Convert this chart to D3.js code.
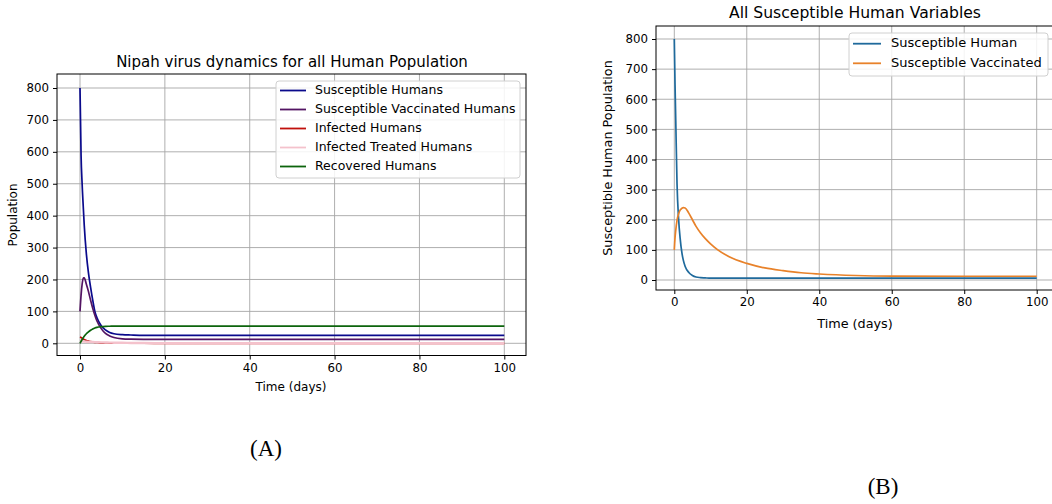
<!DOCTYPE html>
<meta charset="utf-8">
<style>
  body { margin: 0; background: #fff; }
  text { font-family: "DejaVu Sans", sans-serif; fill: #000; }
  .lab { font-family: "Liberation Serif", "Times New Roman", serif; }
</style>

<svg width="1052" height="504"></svg>

<script src="https://d3js.org/d3.v7.min.js"></script>
<script>

// ---- panel A: all human compartments ----
var daysA = [0, 0.25, 0.5, 0.8, 1, 1.5, 2, 2.5, 3, 3.5, 4, 5, 6, 7, 8, 10, 12, 15, 20, 100]
var susceptibleA = [800, 590, 500, 420, 370, 280, 220, 175, 135, 100, 80, 55, 42, 34, 30, 27, 26, 25, 25, 25]
var vaccinatedA = [100, 150, 185, 205, 205, 185, 162, 135, 110, 88, 70, 46, 31, 23, 18, 14, 13, 12.5, 12.5, 12.5]
var infectedA = [20, 18, 16, 13, 12, 9, 7, 5, 4, 3, 2.5, 1.5, 1, 0.7, 0.5, 0.3, 0.2, 0.1, 0, 0]
var treatedA = [8, 7, 6.5, 6, 5.5, 5, 4.5, 4.2, 4, 3.8, 3.5, 3, 2.6, 2.2, 1.9, 1.5, 1.1, 0.8, 0.5, 0]
var recoveredA = [0, 6, 12, 18, 22, 30, 36, 41, 45, 48, 50, 52, 53, 53.5, 54, 54, 54, 54, 54, 54]
var namesA = ["Susceptible Humans", "Susceptible Vaccinated Humans", "Infected Humans", "Infected Treated Humans", "Recovered Humans"]

// ---- panel B: susceptible only ----
var daysB = [0, 0.2, 0.4, 0.75, 1.2, 1.6, 2.1, 2.5, 3, 4, 5, 6, 7.2, 8.5, 10, 12, 15, 20, 25, 30, 35, 40, 50, 60, 80, 100]
var susceptibleB = [800, 650, 530, 320, 200, 140, 90, 65, 45, 25, 15, 10, 8, 7, 6, 6, 6, 6, 6, 6, 6, 6, 6, 6, 6, 6]
var vaccinatedB = [100, 140, 165, 198, 220, 232, 238, 240, 239, 222, 200, 178, 157, 138, 120, 100, 78, 55, 40, 31, 24, 20, 15, 13, 12.5, 12.5]
var namesB = ["Susceptible Human", "Susceptible Vaccinated"]

var xTicks = [0, 20, 40, 60, 80, 100]
var yTicks = [0, 100, 200, 300, 400, 500, 600, 700, 800]

var svg = d3.select('svg')

function drawPanel(p) {
  var g = svg.append('g')
  var x = d3.scaleLinear().domain([0, 100]).range(p.xr)
  var y = d3.scaleLinear().domain([0, 800]).range(p.yr)

  // grid
  g.selectAll('.gx').data(xTicks).enter().append('line')
    .attr('x1', d => x(d)).attr('x2', d => x(d))
    .attr('y1', p.box[1]).attr('y2', p.box[3])
    .attr('stroke', '#a6a6a6').attr('stroke-width', 0.9)
  g.selectAll('.gy').data(yTicks).enter().append('line')
    .attr('y1', d => y(d)).attr('y2', d => y(d))
    .attr('x1', p.box[0]).attr('x2', p.box[2])
    .attr('stroke', '#a6a6a6').attr('stroke-width', 0.9)

  // series
  var line = d3.line().curve(d3.curveMonotoneX)
  p.series.forEach(function (s) {
    var pts = p.days.map((t, i) => [x(t), y(s.values[i])])
    g.append('path').attr('d', line(pts))
      .attr('fill', 'none').attr('stroke', s.color).attr('stroke-width', s.width || 1.7)
  })

  // frame
  g.append('rect')
    .attr('x', p.box[0]).attr('y', p.box[1])
    .attr('width', p.box[2] - p.box[0]).attr('height', p.box[3] - p.box[1])
    .attr('fill', 'none').attr('stroke', '#000').attr('stroke-width', 1)

  // axes
  g.append('g').attr('transform', 'translate(0,' + p.box[3] + ')')
    .call(d3.axisBottom(x).tickValues(xTicks).tickSize(4).tickPadding(4))
    .call(a => a.select('.domain').remove())
    .selectAll('text').attr('font-size', 11.8).attr('font-family', 'DejaVu Sans')
  g.append('g').attr('transform', 'translate(' + p.box[0] + ',0)')
    .call(d3.axisLeft(y).tickValues(yTicks).tickSize(4).tickPadding(4))
    .call(a => a.select('.domain').remove())
    .selectAll('text').attr('font-size', 11.8).attr('font-family', 'DejaVu Sans')

  // titles
  g.append('text').attr('x', p.titleXY[0]).attr('y', p.titleXY[1])
    .attr('text-anchor', 'middle').attr('dominant-baseline', 'middle')
    .attr('font-size', p.titleSize).text(p.title)
  g.append('text').attr('x', p.xLabXY[0]).attr('y', p.xLabXY[1])
    .attr('text-anchor', 'middle').attr('dominant-baseline', 'middle')
    .attr('font-size', p.labSize).text('Time (days)')
  g.append('text')
    .attr('transform', 'translate(' + p.yLabXY[0] + ',' + p.yLabXY[1] + ') rotate(-90)')
    .attr('text-anchor', 'middle').attr('dominant-baseline', 'middle')
    .attr('font-size', p.labSize).text(p.yLabel)

  // legend
  var L = p.legend
  g.append('rect').attr('x', L.box[0]).attr('y', L.box[1])
    .attr('width', L.box[2] - L.box[0]).attr('height', L.box[3] - L.box[1])
    .attr('rx', 3).attr('fill', '#fff').attr('fill-opacity', 0.85)
    .attr('stroke', '#d0d0d0')
  p.series.forEach(function (s, i) {
    var yy = L.y0 + i * L.step
    g.append('line').attr('x1', L.hx[0]).attr('x2', L.hx[1]).attr('y1', yy).attr('y2', yy)
      .attr('stroke', s.color).attr('stroke-width', 1.8)
    g.append('text').attr('x', L.tx).attr('y', yy).attr('dominant-baseline', 'middle')
      .attr('font-size', L.size).text(s.name)
  })
}

drawPanel({
  days: daysA,
  xr: [80, 504.3], yr: [343.3, 88],
  box: [57, 74, 526, 355.5],
  title: 'Nipah virus dynamics for all Human Population',
  titleSize: 15, labSize: 12,
  titleXY: [292, 62], xLabXY: [291, 387], yLabXY: [13, 215], yLabel: 'Population',
  series: [
    { name: namesA[0], values: susceptibleA, color: '#0a0a8c' },
    { name: namesA[1], values: vaccinatedA, color: '#531463' },
    { name: namesA[2], values: infectedA, color: '#c0100c' },
    { name: namesA[3], values: treatedA, color: '#f4c2cc', width: 2.4 },
    { name: namesA[4], values: recoveredA, color: '#0c640c' }
  ],
  legend: { box: [276, 81, 520, 178], y0: 90.5, step: 19, hx: [280, 306], tx: 315, size: 12.5 }
})

drawPanel({
  days: daysB,
  xr: [674.3, 1036.7], yr: [280, 39],
  box: [656, 26, 1056, 290],
  title: 'All Susceptible Human Variables',
  titleSize: 15.6, labSize: 12.8,
  titleXY: [855, 13], xLabXY: [855, 324], yLabXY: [608, 158], yLabel: 'Susceptible Human Population',
  series: [
    { name: namesB[0], values: susceptibleB, color: '#1f6a9c' },
    { name: namesB[1], values: vaccinatedB, color: '#e8822a' }
  ],
  legend: { box: [849, 33, 1048, 76], y0: 43.7, step: 19.6, hx: [853, 881], tx: 891, size: 13 }
})

// figure labels
svg.append('text').attr('class', 'lab').attr('x', 266).attr('y', 456)
  .attr('text-anchor', 'middle').attr('font-size', 23).text('(A)')
svg.append('text').attr('class', 'lab').attr('x', 883).attr('y', 494)
  .attr('text-anchor', 'middle').attr('font-size', 23).text('(B)')

</script>
